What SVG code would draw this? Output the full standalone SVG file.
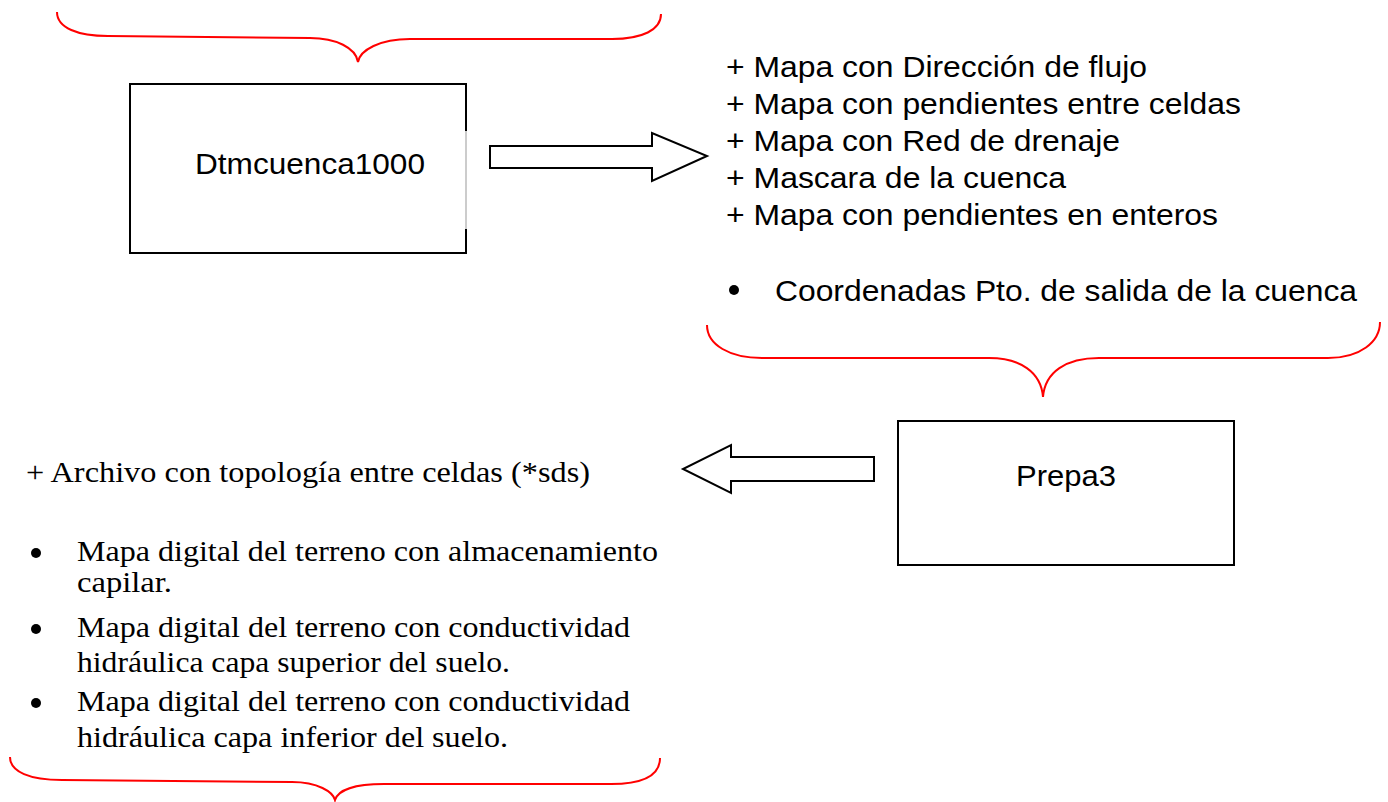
<svg xmlns="http://www.w3.org/2000/svg" width="1388" height="802" viewBox="0 0 1388 802">
<style>
.brace{fill:none;stroke:#ff0000;stroke-width:2}
.box{fill:#fff;stroke:#000;stroke-width:2}
.arrow{fill:#fff;stroke:#000;stroke-width:2;stroke-linejoin:miter}
.sans{font-family:"Liberation Sans",Arial,sans-serif;font-size:30px;fill:#000}
.serif{font-family:"Liberation Serif","Times New Roman",serif;font-size:29px;fill:#000}
</style>
<rect width="1388" height="802" fill="#fff"/>
<g id="braces">
<path class="brace" d="M57,12 C57,28 78,36 108,36 L310,38 C336,38 356,48 358,62 C360,50 380,39 410,39 L612,39 C642,39 661,30 661,14"/>
<path class="brace" d="M707,325 C707,345 730,358 762,358 L989,358 C1020,358 1041,372 1043,397 C1045,372 1066,358 1099,358 L1328,358 C1360,358 1380,342 1380,322"/>
<path class="brace" d="M10,757 C10,772 30,780 62,780 L292,782 C318,782 333,792 335,800 C338,790 355,784 384,784 L611,784 C645,784 660,775 660,758"/>
</g>
<g id="node-dtm">
<path class="box" d="M466,131 L466,84 L130,84 L130,253 L466,253 L466,229" fill="#fff"/>
<line x1="466" y1="131" x2="466" y2="229" stroke="#999" stroke-width="1"/>
<text class="sans" x="310" y="174" text-anchor="middle" textLength="230" lengthAdjust="spacingAndGlyphs">Dtmcuenca1000</text>
</g>
<g id="node-prepa3">
<rect class="box" x="898" y="421" width="336" height="144"/>
<text class="sans" x="1066" y="486" text-anchor="middle" textLength="100" lengthAdjust="spacingAndGlyphs">Prepa3</text>
</g>
<g id="connectors">
<path class="arrow" d="M490,146 L652,146 L652,133 L707,156 L652,181 L652,168 L490,168 Z"/>
<path class="arrow" d="M874,457 L731,457 L731,445 L683,469 L731,493 L731,481 L874,481 Z"/>
</g>
<g id="outputs-dtm">
<text class="sans" x="726" y="77" textLength="421" lengthAdjust="spacingAndGlyphs">+ Mapa con Dirección de flujo</text>
<text class="sans" x="726" y="114" textLength="515" lengthAdjust="spacingAndGlyphs">+ Mapa con pendientes entre celdas</text>
<text class="sans" x="726" y="151" textLength="394" lengthAdjust="spacingAndGlyphs">+ Mapa con Red de drenaje</text>
<text class="sans" x="726" y="188" textLength="340" lengthAdjust="spacingAndGlyphs">+ Mascara de la cuenca</text>
<text class="sans" x="726" y="225" textLength="492" lengthAdjust="spacingAndGlyphs">+ Mapa con pendientes en enteros</text>
<circle cx="734" cy="290" r="5" fill="#000"/>
<text class="sans" x="775" y="301" textLength="582" lengthAdjust="spacingAndGlyphs">Coordenadas Pto. de salida de la cuenca</text>
</g>
<g id="outputs-prepa3">
<text class="serif" x="26" y="482" textLength="564" lengthAdjust="spacingAndGlyphs">+ Archivo con topología entre celdas (*sds)</text>
<circle cx="36" cy="553" r="5" fill="#000"/>
<text class="serif" x="77" y="561" textLength="581" lengthAdjust="spacingAndGlyphs">Mapa digital del terreno con almacenamiento</text>
<text class="serif" x="77" y="592" textLength="95" lengthAdjust="spacingAndGlyphs">capilar.</text>
<circle cx="36" cy="629" r="5" fill="#000"/>
<text class="serif" x="77" y="637" textLength="553" lengthAdjust="spacingAndGlyphs">Mapa digital del terreno con conductividad</text>
<text class="serif" x="77" y="672" textLength="433" lengthAdjust="spacingAndGlyphs">hidráulica capa superior del suelo.</text>
<circle cx="36" cy="703" r="5" fill="#000"/>
<text class="serif" x="77" y="711" textLength="553" lengthAdjust="spacingAndGlyphs">Mapa digital del terreno con conductividad</text>
<text class="serif" x="77" y="747" textLength="431" lengthAdjust="spacingAndGlyphs">hidráulica capa inferior del suelo.</text>
</g>
</svg>
